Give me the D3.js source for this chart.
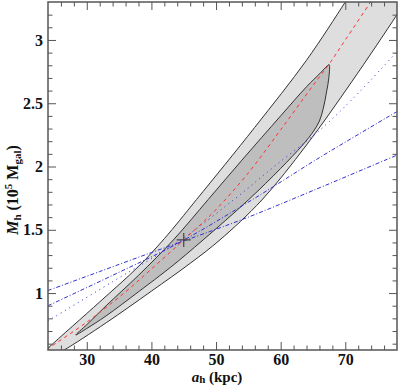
<!DOCTYPE html>
<html>
<head>
<meta charset="utf-8">
<script src="https://cdn.jsdelivr.net/npm/d3@7"></script>
<style>
  body { margin: 0; background: #fff; }
  svg { display: block; }
  text { font-family: "Liberation Serif", "DejaVu Serif", serif; font-weight: bold; }
</style>
</head>
<body>
<div id="chart"></div>
<script>
// contour boundaries, [a_h (kpc), M_h (1e5 Mgal)]
const outerUpper = [[22, 0.47], [24, 0.565], [32, 0.93], [38, 1.21], [42, 1.43], [47, 1.74],
                    [56, 2.31], [64, 2.84], [70, 3.30], [72, 3.46]];
const outerLower = [[25.5, 0.525], [26.5, 0.55], [33, 0.765], [40, 1.015], [46, 1.235], [50.6, 1.42],
                    [57.1, 1.736], [64, 2.17], [71, 2.67], [78, 3.2], [80, 3.36]];
const innerUpper = [[28.3, 0.669], [30, 0.75], [33, 0.90], [38, 1.14], [43.4, 1.42], [48.8, 1.74],
                    [54, 2.05], [60, 2.40], [64, 2.63], [66.1, 2.737], [67.2, 2.795], [67.5, 2.805]];
const innerLower = [[67.45, 2.70], [67.1, 2.59], [66.6, 2.46], [66.0, 2.36], [65.1, 2.28],
                    [63.4, 2.17], [60, 1.985], [55, 1.736], [48, 1.42], [43, 1.205], [38, 1.01],
                    [33, 0.82], [30, 0.72]];

const redLine = [[23, 0.52], [24, 0.56], [30, 0.77], [36, 1.01], [40, 1.19], [45, 1.42], [50, 1.66],
                 [55, 1.95], [60, 2.29], [65, 2.64], [67.5, 2.81], [70, 3.0], [73.9, 3.3], [75, 3.39]];
const blueDotted = [[24, 0.78], [34, 1.09], [44, 1.40], [52.7, 1.736], [59, 2.0], [66.1, 2.289],
                    [72, 2.58], [78, 2.908]];
const blueDashDotA = [[24, 0.90], [34, 1.14], [44, 1.39], [56, 1.75], [66, 2.07], [78, 2.434]];
const blueDashDotB = [[24, 1.02], [32, 1.17], [40, 1.32], [46, 1.43], [55, 1.60], [65, 1.81], [78, 2.09]];

const bestFit = [[45, 1.42]];

const xMajor = [30, 40, 50, 60, 70];
const yMajor = [1, 1.5, 2, 2.5, 3];

const width = 399, height = 386;
const margin = {top: 2, right: 2, bottom: 36, left: 48};

const x = d3.scaleLinear().domain([24, 78]).range([margin.left, width - margin.right]);
const y = d3.scaleLinear().domain([0.55, 3.3]).range([height - margin.bottom, margin.top]);

const xMinor = d3.range(26, 78, 2).filter(v => v % 10 !== 0);
const yMinor = d3.range(6, 33).map(v => v / 10).filter(v => Math.abs(v * 2 - Math.round(v * 2)) > 1e-6);

const svg = d3.select("#chart").append("svg")
  .attr("width", width)
  .attr("height", height);

svg.append("defs").append("clipPath").attr("id", "plot")
  .append("rect")
  .attr("x", margin.left).attr("y", margin.top)
  .attr("width", width - margin.left - margin.right)
  .attr("height", height - margin.top - margin.bottom);

const line = d3.line()
  .x(d => x(d[0]))
  .y(d => y(d[1]))
  .curve(d3.curveCatmullRom.alpha(0.5));

const closed = d3.line()
  .x(d => x(d[0]))
  .y(d => y(d[1]))
  .curve(d3.curveCatmullRomClosed.alpha(0.5));

const g = svg.append("g").attr("clip-path", "url(#plot)");

// outer band
g.append("path")
  .attr("d", line(outerUpper) + line(outerLower.slice().reverse()).replace(/^M/, "L") + "Z")
  .attr("fill", "#dedede");

// inner contour
g.append("path")
  .attr("d", closed(innerUpper.concat(innerLower)))
  .attr("fill", "#bebebe")
  .attr("stroke", "#333")
  .attr("stroke-width", 1);

[outerUpper, outerLower].forEach(c => {
  g.append("path")
    .attr("d", line(c))
    .attr("fill", "none")
    .attr("stroke", "#333")
    .attr("stroke-width", 1);
});

// model curves
const curves = [
  {data: blueDotted, color: "#3030d0", dash: "1,4"},
  {data: blueDashDotA, color: "#3030d0", dash: "4,2,1,2"},
  {data: blueDashDotB, color: "#3030d0", dash: "4,2,1,2"},
  {data: redLine, color: "#ff3030", dash: "3.5,3.5"}
];
curves.forEach(c => {
  g.append("path")
    .attr("d", line(c.data))
    .attr("fill", "none")
    .attr("stroke", c.color)
    .attr("stroke-width", 1)
    .attr("stroke-dasharray", c.dash);
});

// best fit cross
bestFit.forEach(d => {
  g.append("path")
    .attr("d", `M${x(d[0]) - 7},${y(d[1])}h14M${x(d[0])},${y(d[1]) - 7}v14`)
    .attr("stroke", "#444")
    .attr("stroke-width", 1.2);
});

// axes, ticks pointing inwards on all four sides
const tickColor = "#555";
function styleAxis(sel) {
  sel.select(".domain").remove();
  sel.selectAll(".tick line").attr("stroke", tickColor);
  sel.selectAll(".tick text")
    .attr("fill", "#111")
    .style("font-size", "16px")
    .style("font-family", "Liberation Serif, serif")
    .style("font-weight", "bold");
}

const bottomY = height - margin.bottom, rightX = width - margin.right;

svg.append("g").attr("transform", `translate(0,${bottomY})`)
  .call(d3.axisBottom(x).tickValues(xMajor).tickSize(-8).tickPadding(4).tickFormat(d3.format("d")))
  .call(styleAxis);
svg.append("g").attr("transform", `translate(0,${bottomY})`)
  .call(d3.axisBottom(x).tickValues(xMinor).tickSize(-4.5).tickFormat(""))
  .call(styleAxis);
svg.append("g").attr("transform", `translate(0,${margin.top})`)
  .call(d3.axisTop(x).tickValues(xMajor).tickSize(-8).tickFormat(""))
  .call(styleAxis);
svg.append("g").attr("transform", `translate(0,${margin.top})`)
  .call(d3.axisTop(x).tickValues(xMinor).tickSize(-4.5).tickFormat(""))
  .call(styleAxis);

svg.append("g").attr("transform", `translate(${margin.left},0)`)
  .call(d3.axisLeft(y).tickValues(yMajor).tickSize(-8).tickPadding(5).tickFormat(d3.format("")))
  .call(styleAxis);
svg.append("g").attr("transform", `translate(${margin.left},0)`)
  .call(d3.axisLeft(y).tickValues(yMinor).tickSize(-4.5).tickFormat(""))
  .call(styleAxis);
svg.append("g").attr("transform", `translate(${rightX},0)`)
  .call(d3.axisRight(y).tickValues(yMajor).tickSize(-8).tickFormat(""))
  .call(styleAxis);
svg.append("g").attr("transform", `translate(${rightX},0)`)
  .call(d3.axisRight(y).tickValues(yMinor).tickSize(-4.5).tickFormat(""))
  .call(styleAxis);

// frame
svg.append("rect")
  .attr("x", margin.left).attr("y", margin.top)
  .attr("width", rightX - margin.left)
  .attr("height", bottomY - margin.top)
  .attr("fill", "none")
  .attr("stroke", "#555")
  .attr("stroke-width", 1.5);

// axis titles
const xt = svg.append("text")
  .attr("x", 217).attr("y", 382)
  .attr("text-anchor", "middle")
  .style("font-size", "15px")
  .attr("fill", "#111");
xt.append("tspan").style("font-style", "italic").text("a");
xt.append("tspan").attr("dy", 1).style("font-size", "11px").text("h");
xt.append("tspan").attr("dy", -1).text(" (kpc)");

const yt = svg.append("text")
  .attr("transform", "translate(18,190) rotate(-90)")
  .attr("text-anchor", "middle")
  .style("font-size", "16px")
  .attr("fill", "#111");
yt.append("tspan").style("font-style", "italic").text("M");
yt.append("tspan").attr("dy", 3).style("font-size", "11px").text("h");
yt.append("tspan").attr("dy", -3).text(" (10");
yt.append("tspan").attr("dy", -6).style("font-size", "11px").text("5");
yt.append("tspan").attr("dy", 6).text(" M");
yt.append("tspan").attr("dy", 3).style("font-size", "11px").text("gal");
yt.append("tspan").attr("dy", -3).text(")");
</script>
</body>
</html>
